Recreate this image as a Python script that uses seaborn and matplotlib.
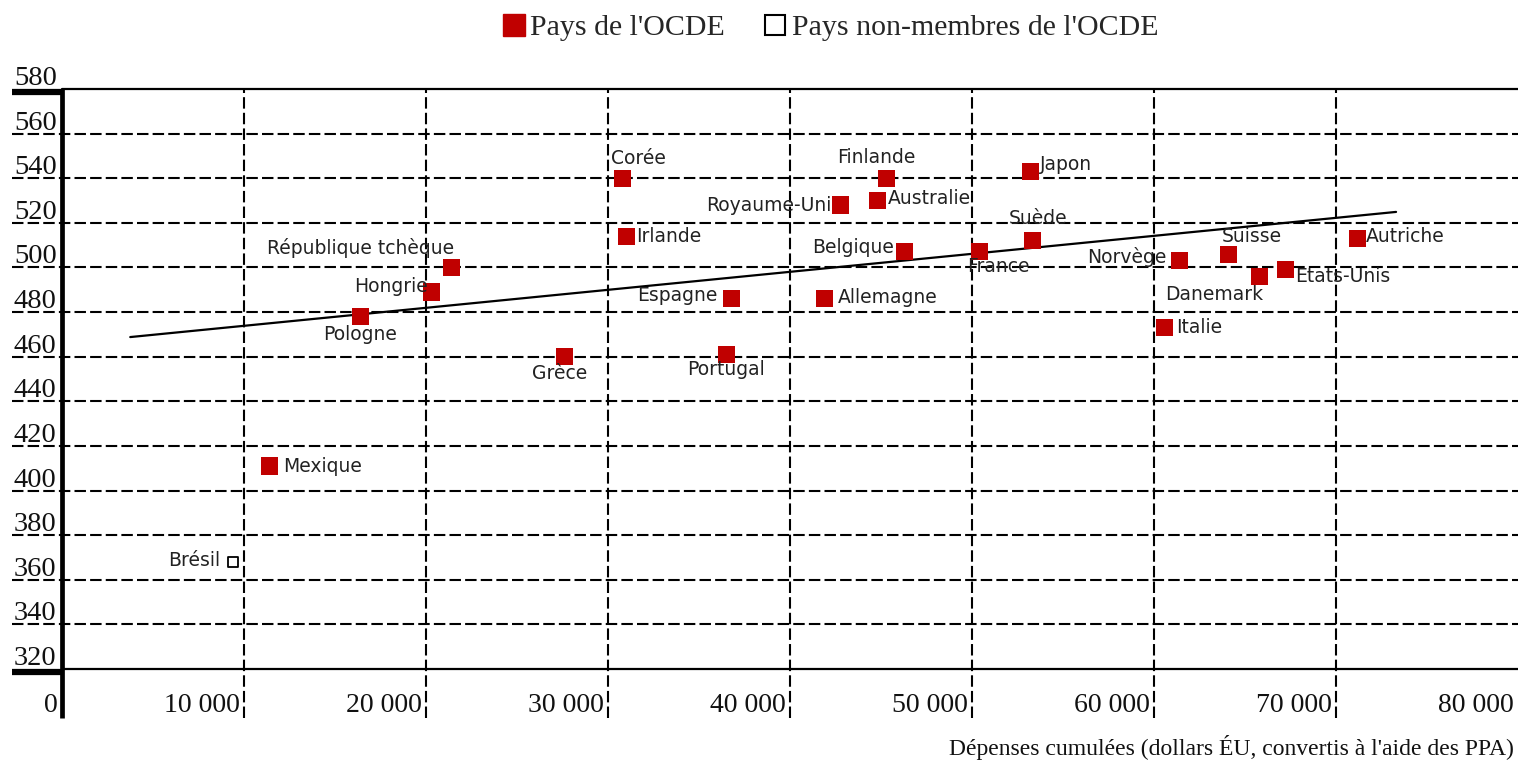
import matplotlib
matplotlib.use("Agg")
import matplotlib.pyplot as plt
import matplotlib.transforms as mtransforms
from matplotlib.lines import Line2D
import pandas as pd
import seaborn as sns

# ---------------- data ----------------
countries_oecd = ["Corée", "Finlande", "Royaume-Uni", "Australie", "Japon", "Irlande",
                  "République tchèque", "Hongrie", "Pologne", "Grèce", "Portugal",
                  "Espagne", "Allemagne", "Belgique", "France", "Suède", "Norvège",
                  "Suisse", "Danemark", "Etats-Unis", "Autriche", "Italie", "Mexique"]
spend_oecd = [30800, 45300, 42800, 44800, 53200, 31000,
              21400, 20300, 16400, 27600, 36500,
              36800, 41900, 46300, 50400, 53300, 61400,
              64100, 65800, 67200, 71200, 60600, 11400]
score_oecd = [540, 540, 528, 530, 543, 514,
              500, 489, 478, 460, 461,
              486, 486, 507, 507, 512, 503,
              506, 496, 499, 513, 473, 411]

countries_non = ["Brésil"]
spend_non = [9400]
score_non = [368]

trend_x = [3750, 73300]
trend_y = [468.8, 524.9]

x_ticks = [0, 10000, 20000, 30000, 40000, 50000, 60000, 70000, 80000]
x_tick_labels = ["0", "10 000", "20 000", "30 000", "40 000", "50 000", "60 000", "70 000", "80 000"]
y_ticks = [320, 340, 360, 380, 400, 420, 440, 460, 480, 500, 520, 540, 560, 580]
y_tick_labels = ["320", "340", "360", "380", "400", "420", "440", "460", "480", "500",
                 "520", "540", "560", "580"]

legend_labels = ["Pays de l'OCDE", "Pays non-membres de l'OCDE"]
x_title = "Dépenses cumulées (dollars ÉU, convertis à l'aide des PPA)"

# label placement (pixels offset from marker, alignment) - layout only
label_layout = {
    "Corée": (-12, 20, "left"), "Finlande": (-10, 21, "center"),
    "Royaume-Uni": (-9, 0, "right"), "Australie": (10, 2, "left"),
    "Japon": (10, 7, "left"), "Irlande": (10, 0, "left"),
    "République tchèque": (3, 19, "right"), "Hongrie": (-4, 6, "right"),
    "Pologne": (0, -18, "center"), "Grèce": (-5, -17, "center"),
    "Portugal": (0, -15, "center"), "Espagne": (-14, 3, "right"),
    "Allemagne": (13, 1, "left"), "Belgique": (-11, 4, "right"),
    "France": (-12, -15, "left"), "Suède": (6, 22, "center"),
    "Norvège": (-13, 4, "right"), "Suisse": (-7, 18, "left"),
    "Danemark": (4, -18, "right"), "Etats-Unis": (10, -7, "left"),
    "Autriche": (8, 2, "left"), "Italie": (11, 0, "left"),
    "Mexique": (14, 0, "left"), "Brésil": (-13, 1, "right"),
}

RED = "#c00000"

sns.set_theme(style="white")
plt.rcParams["font.family"] = ["Liberation Serif", "DejaVu Serif"]

W, H = 1518, 764
fig = plt.figure(figsize=(W / 100, H / 100), dpi=100)
ax = fig.add_axes([62 / W, 95 / H, 1456 / W, 580 / H])

df_o = pd.DataFrame({"pays": countries_oecd, "dep": spend_oecd, "score": score_oecd})
df_n = pd.DataFrame({"pays": countries_non, "dep": spend_non, "score": score_non})

# trend line
sns.lineplot(x=trend_x, y=trend_y, color="black", lw=1.6, ax=ax, zorder=4)

sns.scatterplot(data=df_o, x="dep", y="score", marker="s", s=150, color=RED,
                edgecolor="none", ax=ax, legend=False, zorder=5)
sns.scatterplot(data=df_n, x="dep", y="score", marker="s", s=60, color="black",
                facecolor="white", edgecolor="black", linewidth=1.3, ax=ax,
                legend=False, zorder=5)

ax.set_xlim(x_ticks[0], x_ticks[-1])
ax.set_ylim(y_ticks[0], y_ticks[-1])
ax.set_xticks([])
ax.set_yticks([])
ax.set_xlabel("")
ax.set_ylabel("")
for sp in ax.spines.values():
    sp.set_visible(False)

ytrans = ax.get_yaxis_transform()
xtrans = ax.get_xaxis_transform()
left_ext = -50 / 1456
bottom_ext = -49 / 580

# horizontal grid
for v in y_ticks[1:-1]:
    ax.plot([left_ext, 1], [v, v], transform=ytrans, color="black", lw=1.5,
            dashes=(5.5, 2), clip_on=False, zorder=2)
thick_tr = mtransforms.offset_copy(ytrans, fig=fig, x=0, y=-3, units="dots")
for v in (y_ticks[0], y_ticks[-1]):
    ax.plot([0, 1], [v, v], transform=ytrans, color="black", lw=1.6,
            clip_on=False, zorder=3)
    ax.plot([left_ext, 0], [v, v], transform=thick_tr, color="black", lw=4.5,
            solid_capstyle="butt", clip_on=False, zorder=3)
# vertical grid
for v in x_ticks[1:-1]:
    ax.plot([v, v], [bottom_ext, 1], transform=xtrans, color="black", lw=1.5,
            dashes=(5.5, 2), clip_on=False, zorder=2)
ax.plot([x_ticks[0], x_ticks[0]], [bottom_ext, 1], transform=xtrans, color="black",
        lw=3.4, solid_capstyle="butt", clip_on=False, zorder=3)

# y tick labels (above gridlines, left-aligned)
ylab_tr = mtransforms.offset_copy(ytrans, fig=fig, x=0, y=4, units="dots")
for v, lab in zip(y_ticks, y_tick_labels):
    ax.text(-48 / 1456, v, lab, transform=ylab_tr, ha="left", va="baseline",
            fontsize=20.5, color="#111111")

# x tick labels (right-aligned to gridlines)
xlab_tr = mtransforms.offset_copy(xtrans, fig=fig, x=-4, y=0, units="dots")
for v, lab in zip(x_ticks, x_tick_labels):
    ax.text(v, -43 / 580, lab, transform=xlab_tr, ha="right", va="baseline",
            fontsize=20, color="#111111")

fig.text(1514 / W, 1 - 748 / H, x_title, ha="right", va="center", fontsize=17,
         color="#111111")

# point labels
for df in (df_o, df_n):
    for _, r in df.iterrows():
        dx, dy, ha = label_layout[r["pays"]]
        ax.annotate(r["pays"], (r["dep"], r["score"]), xytext=(dx, dy),
                    textcoords="offset pixels", ha=ha, va="center", fontsize=13.5,
                    family="DejaVu Sans", color="#222222", zorder=6)

# legend
handles = [
    Line2D([], [], marker="s", ls="none", markersize=16, markerfacecolor=RED,
           markeredgecolor=RED),
    Line2D([], [], marker="s", ls="none", markersize=15, markerfacecolor="white",
           markeredgecolor="black", markeredgewidth=1.5),
]
fig.legend(handles, legend_labels, loc="center", bbox_to_anchor=(830 / W, 1 - 28 / H),
           ncol=2, frameon=False, fontsize=21.5, handletextpad=0.15,
           columnspacing=1.3, handlelength=0.8)

fig.savefig("out.png", dpi=100)
